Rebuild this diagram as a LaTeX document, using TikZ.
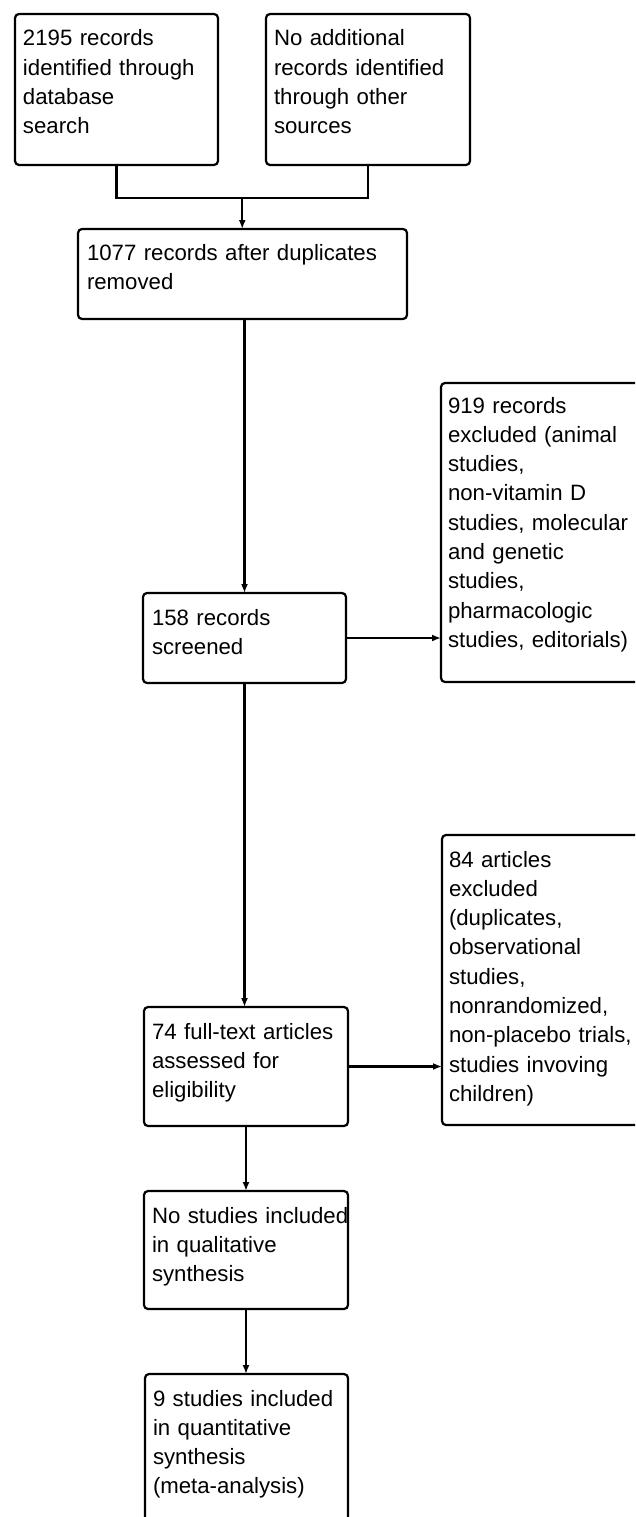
\documentclass[tikz,border=0pt]{standalone}
\usepackage{fontspec}
\setmainfont{Liberation Sans}
\usetikzlibrary{arrows.meta,calc}
\begin{document}
\begin{tikzpicture}[x=1pt,y=-1pt,
  box/.style={draw=black, line width=2.2pt, rounded corners=4pt, inner sep=0pt, outer sep=0pt},
  txt/.style={anchor=base west, inner sep=0pt, outer sep=0pt, align=left, text width=200pt,
    font=\fontsize{22.2}{29.3}\selectfont},
  conn/.style={line width=2.2pt, draw=black},
  arr/.style={conn, -{Latex[length=9pt,width=7pt]}}]
\useasboundingbox (0,0) rectangle (635,1517);
\fill[white] (0,0) rectangle (635,1517);
\clip (0,0) rectangle (635,1517);
% boxes
\node[box, minimum width=203pt, minimum height=151pt] (A) at (116.5,89.5) {};
\node[box, minimum width=204pt, minimum height=151pt] (B) at (368,89.5) {};
\node[box, minimum width=329pt, minimum height=90pt] (C) at (242.5,274) {};
\node[box, minimum width=203pt, minimum height=90pt] (D) at (244.5,638) {};
\node[box, minimum width=204pt, minimum height=299pt] (E) at (543,532.5) {};
\node[box, minimum width=204pt, minimum height=119pt] (F) at (246,1066.5) {};
\node[box, minimum width=204pt, minimum height=290pt] (G) at (544,980) {};
\node[box, minimum width=204pt, minimum height=118pt] (H) at (246,1250) {};
\node[box, minimum width=203pt, minimum height=156pt] (I) at (246.5,1452) {};
% texts
\node[txt] (tA) at ($(A.north west)+(8,32)$) {2195 records\\identified through\\database\\search};
\node[txt] (tB) at ($(B.north west)+(8,32)$) {No additional\\records identified\\through other\\sources};
\node[txt, text width=320pt] (tC) at ($(C.north west)+(9,31)$) {1077 records after duplicates\\removed};
\node[txt] (tD) at ($(D.north west)+(9,32)$) {158 records\\screened};
\node[txt] (tE) at ($(E.north west)+(7,30)$) {919 records\\excluded (animal\\studies,\\non-vitamin D\\studies, molecular\\and genetic\\studies,\\pharmacologic\\studies, editorials)};
\node[txt] (tF) at ($(F.north west)+(8,32)$) {74 full-text articles\\assessed for\\eligibility};
\node[txt] (tG) at ($(G.north west)+(7,32)$) {84 articles\\excluded\\(duplicates,\\observational\\studies,\\nonrandomized,\\non-placebo trials,\\studies invoving\\children)};
\node[txt] (tH) at ($(H.north west)+(8,32)$) {No studies included\\in qualitative\\synthesis};
\node[txt] (tI) at ($(I.north west)+(8,32)$) {9 studies included\\in quantitative\\synthesis\\(meta-analysis)};
% connectors
\coordinate (j) at ($(A.south)!0.5!(B.south)+(0,33)$);
\draw[conn] (A.south) |- (j) -| (B.south);
\draw[arr] (j) -- (j |- C.north);
\draw[arr] (C.south -| D.north) -- (D.north);
\draw[arr] (D.east) -- (D.east -| E.west);
\draw[arr] (D.south) -- (D.south |- F.north);
\draw[arr] (F.east) -- (F.east -| G.west);
\draw[arr] (F.south) -- (H.north);
\draw[arr] (H.south) -- (H.south |- I.north);
\end{tikzpicture}
\end{document}
